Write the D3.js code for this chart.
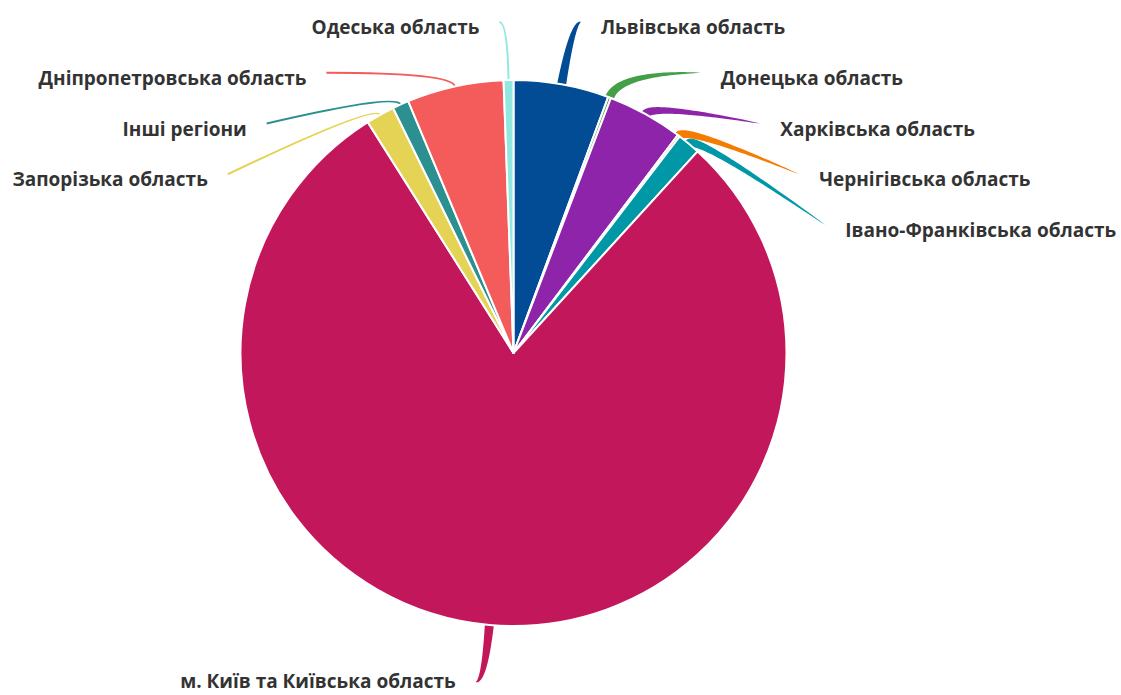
<!DOCTYPE html>
<html lang="uk">
<head>
<meta charset="utf-8">
<script src="https://cdn.jsdelivr.net/npm/d3@7"></script>
<style>
  html, body { margin: 0; padding: 0; background: #fff; }
  svg { display: block; }
  .label { font-family: "Open Sans", "Noto Sans", sans-serif; font-weight: 700; font-size: 19px; fill: #333; }
</style>
</head>
<body>
<svg id="chart" width="1121" height="695"></svg>
<script>
// Regions, in drawing order clockwise from 12 o'clock
const regions = [
  "Львівська область",
  "Донецька область",
  "Харківська область",
  "Чернігівська область",
  "Івано-Франківська область",
  "м. Київ та Київська область",
  "Запорізька область",
  "Інші регіони",
  "Дніпропетровська область",
  "Одеська область"
];

// Share of each region, %
const shares = [5.64, 0.17, 4.47, 0.14, 1.36, 79.25, 1.69, 0.97, 5.72, 0.58];

// Slice colours
const sliceColors = [
  "#024c95", "#43a047", "#8e24aa", "#f57c00", "#0097a7",
  "#c2185b", "#e4d354", "#2b908f", "#f45b5b", "#91e8e1"
];

// Regions whose connector is drawn as a tapered ribbon (others get a thin line)
const ribbonConnectors = new Set([
  "Львівська область", "Донецька область", "Харківська область",
  "Чернігівська область", "Івано-Франківська область", "м. Київ та Київська область"
]);

const width = 1121, height = 695;
const cx = 513.5, cy = 353;
const radius = 273;
const labelRadius = 337;     // circle the connector ends sit on
const rowGap = 50.75;        // minimum vertical spacing between labels on one side
const textGap = 20;          // gap between connector end and label text
const ribbonWidth = 9;

const svg = d3.select("#chart");
svg.append("rect").attr("width", width).attr("height", height).attr("fill", "#fff");

const data = regions.map((name, i) => ({ name, value: shares[i], color: sliceColors[i] }));

const pie = d3.pie().sort(null).value(d => d.value).startAngle(0).endAngle(2 * Math.PI);
const arcs = pie(data);

const arc = d3.arc().innerRadius(0).outerRadius(radius);

const root = svg.append("g");
const connG = root.append("g");
const sliceG = root.append("g").attr("transform", `translate(${cx},${cy})`);
const labelG = root.append("g");

// Slices
sliceG.selectAll("path")
  .data(arcs)
  .join("path")
  .attr("d", arc)
  .attr("fill", d => d.data.color)
  .attr("stroke", "#fff")
  .attr("stroke-width", 2)
  .attr("stroke-linejoin", "round");

// Label layout: natural position on the label circle, then pushed apart per side
const yMin = cy - labelRadius + 6, yMax = cy + labelRadius - 8;
arcs.forEach(d => {
  d.mid = (d.startAngle + d.endAngle) / 2;
  d.right = d.mid < Math.PI;
  d.naturalX = cx + labelRadius * Math.sin(d.mid);
  d.naturalY = cy - labelRadius * Math.cos(d.mid);
});

["right", "left"].forEach(side => {
  const group = arcs.filter(d => (side === "right") === d.right)
    .sort((a, b) => a.naturalY - b.naturalY);
  let prev = -Infinity;
  group.forEach(d => {
    let y = Math.max(d.naturalY, prev + rowGap, yMin);
    y = Math.min(y, yMax);
    d.labelY = y;
    prev = y;
  });
});

arcs.forEach(d => {
  const sign = d.right ? 1 : -1;
  const dy = d.labelY - cy;
  const atExtreme = d.labelY <= yMin + 0.5 || d.labelY >= yMax - 0.5;
  d.tipX = atExtreme
    ? d.naturalX + sign * 8
    : cx + sign * Math.sqrt(Math.max(0, labelRadius * labelRadius - dy * dy));
  d.tipY = d.labelY;
  // bottom label sits tighter so it stays inside the frame
  d.baseline = d.labelY >= yMax - 0.5 ? d.tipY + 6 : d.tipY + 12;

  // connector start on the slice edge, and a control point out along the radius
  const ux = Math.sin(d.mid), uy = -Math.cos(d.mid);
  d.edgeX = cx + radius * ux;
  d.edgeY = cy + radius * uy;
  let reach = 12;
  if (Math.abs(uy) > 0.05) {
    const t = (d.tipY - d.edgeY) / uy;
    if (t > reach) reach = t;
  }
  d.ctrlX = d.edgeX + reach * ux;
  d.ctrlY = d.edgeY + reach * uy;
});

function quad(d, t) {
  const a = (1 - t) * (1 - t), b = 2 * t * (1 - t), c = t * t;
  return [a * d.edgeX + b * d.ctrlX + c * d.tipX, a * d.edgeY + b * d.ctrlY + c * d.tipY];
}
function quadTangent(d, t) {
  const x = 2 * (1 - t) * (d.ctrlX - d.edgeX) + 2 * t * (d.tipX - d.ctrlX);
  const y = 2 * (1 - t) * (d.ctrlY - d.edgeY) + 2 * t * (d.tipY - d.ctrlY);
  const len = Math.hypot(x, y) || 1;
  return [x / len, y / len];
}

function ribbonPath(d) {
  const n = 48, left = [], right = [];
  for (let i = 0; i <= n; i++) {
    const t = i / n;
    const [x, y] = quad(d, t);
    const [tx, ty] = quadTangent(d, t);
    const w = ribbonWidth / 2 * Math.pow(1 - t, 0.7);
    left.push([x - ty * w, y + tx * w]);
    right.push([x + ty * w, y - tx * w]);
  }
  const pts = left.concat(right.reverse());
  return d3.line()(pts) + "Z";
}

function linePath(d) {
  const p = d3.path();
  p.moveTo(d.edgeX, d.edgeY);
  p.quadraticCurveTo(d.ctrlX, d.ctrlY, d.tipX, d.tipY);
  return p.toString();
}

connG.selectAll("path")
  .data(arcs)
  .join("path")
  .attr("d", d => ribbonConnectors.has(d.data.name) ? ribbonPath(d) : linePath(d))
  .attr("fill", d => ribbonConnectors.has(d.data.name) ? d.data.color : "none")
  .attr("stroke", d => ribbonConnectors.has(d.data.name) ? "none" : d.data.color)
  .attr("stroke-width", 2);

labelG.selectAll("text")
  .data(arcs)
  .join("text")
  .attr("class", "label")
  .attr("x", d => d.tipX + (d.right ? textGap : -textGap))
  .attr("y", d => d.baseline)
  .attr("text-anchor", d => d.right ? "start" : "end")
  .text(d => d.data.name);
</script>
</body>
</html>
